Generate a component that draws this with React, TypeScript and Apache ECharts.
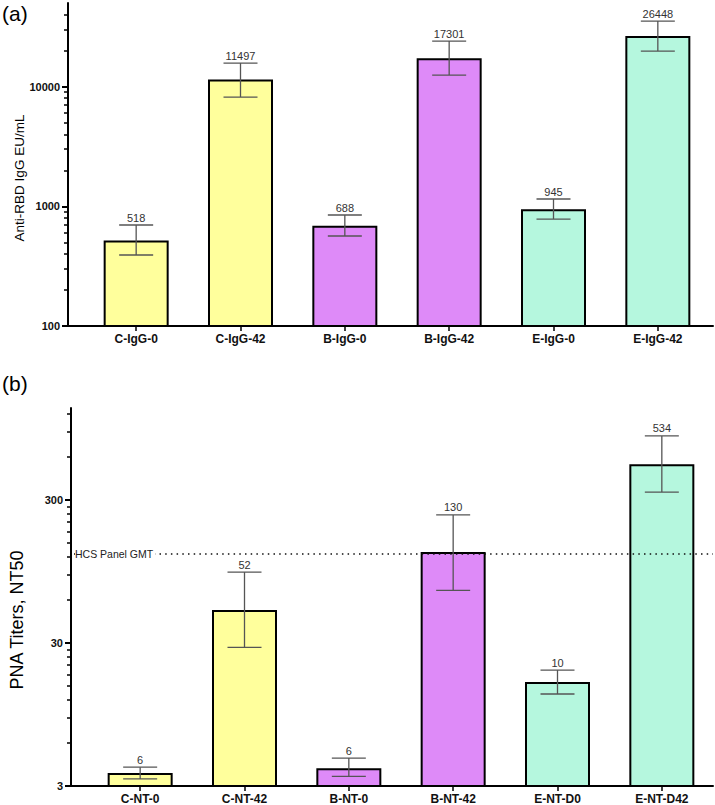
import React, { useEffect, useRef } from "react";
import * as echarts from "echarts";

const FONT = '"Liberation Sans", Arial, Helvetica, sans-serif';

// ---- Panel (a) data ----
const topCategories = ["C-IgG-0", "C-IgG-42", "B-IgG-0", "B-IgG-42", "E-IgG-0", "E-IgG-42"];
const topValues = [518, 11497, 688, 17301, 945, 26448];
const topErrLow = [392, 8190, 565, 12500, 783, 19830];
const topErrHigh = [698, 15740, 846, 24040, 1151, 35300];
const topLabels = ["518", "11497", "688", "17301", "945", "26448"];
const topMajorTicks = [100, 1000, 10000];
const topMinorTicks = [
  200, 300, 400, 500, 600, 700, 800, 900,
  2000, 3000, 4000, 5000, 6000, 7000, 8000, 9000,
  20000, 30000, 40000,
];
const topMin = 100;
const topMax = 50000;

// ---- Panel (b) data ----
const bottomCategories = ["C-NT-0", "C-NT-42", "B-NT-0", "B-NT-42", "E-NT-D0", "E-NT-D42"];
const bottomValues = [3.7, 51, 4.0, 130, 16, 534];
const bottomErrLow = [3.36, 28, 3.5, 70, 13.2, 341];
const bottomErrHigh = [4.06, 94, 4.7, 236, 19.4, 842];
const bottomLabels = ["6", "52", "6", "130", "10", "534"];
const bottomMajorTicks = [3, 30, 300];
const bottomMinorTicks = [
  6, 9, 12, 15, 18, 21, 24, 27,
  60, 90, 120, 150, 180, 210, 240, 270,
  600, 900, 1200,
];
const bottomMin = 3;
const bottomMax = 1320;
const hcsGMT = 126;

const barColors = ["#FFFF9C", "#FFFF9C", "#DE8AF8", "#DE8AF8", "#B5F7DE", "#B5F7DE"];

function errorSeries(xi: number, yi: number, lo: number[], hi: number[], labels: string[]) {
  return {
    type: "custom",
    xAxisIndex: xi,
    yAxisIndex: yi,
    z: 5,
    data: lo.map((l, i) => [i, l, hi[i]]),
    renderItem: (params: any, api: any) => {
      const i = api.value(0);
      const top = api.coord([i, api.value(2)]);
      const bot = api.coord([i, api.value(1)]);
      const x = top[0];
      const half = 17;
      const st = { stroke: "#555", lineWidth: 1.3 };
      return {
        type: "group",
        children: [
          { type: "line", shape: { x1: x, y1: top[1], x2: x, y2: bot[1] }, style: st },
          { type: "line", shape: { x1: x - half, y1: top[1], x2: x + half, y2: top[1] }, style: st },
          { type: "line", shape: { x1: x - half, y1: bot[1], x2: x + half, y2: bot[1] }, style: st },
          {
            type: "text",
            style: {
              text: labels[params.dataIndex],
              x,
              y: top[1] - 2,
              align: "center",
              verticalAlign: "bottom",
              fontSize: 11,
              fontFamily: FONT,
              fill: "#333",
            },
          },
        ],
      };
    },
  };
}

function barSeries(xi: number, yi: number, values: number[]) {
  return {
    type: "bar",
    xAxisIndex: xi,
    yAxisIndex: yi,
    barWidth: 65,
    z: 2,
    data: values.map((v, i) => ({
      value: v,
      itemStyle: { color: barColors[i], borderColor: "#000", borderWidth: 2 },
    })),
  };
}

function outerX(gi: number) {
  return {
    type: "value",
    gridIndex: gi,
    min: 0,
    max: 1,
    axisLine: { show: true, onZero: false, lineStyle: { color: "#000", width: 2 } },
    axisTick: { show: false },
    axisLabel: { show: false },
    splitLine: { show: false },
  };
}

function innerX(gi: number, cats: string[]) {
  return {
    type: "category",
    gridIndex: gi,
    data: cats,
    axisLine: { show: false },
    axisTick: { show: true, alignWithLabel: true, length: 5, lineStyle: { color: "#000", width: 1.5 } },
    axisLabel: { fontFamily: FONT, fontSize: 12, fontWeight: "bold", color: "#111", margin: 7 },
    splitLine: { show: false },
  };
}

function majorY(gi: number, min: number, max: number, ticks: number[], margin: number) {
  return {
    type: "log",
    gridIndex: gi,
    min,
    max,
    axisLine: { show: true, onZero: false, lineStyle: { color: "#000", width: 2 } },
    axisTick: { show: true, customValues: ticks, length: 6, lineStyle: { color: "#000", width: 2 } },
    axisLabel: {
      customValues: ticks,
      formatter: (v: number) => String(Math.round(v)),
      fontFamily: FONT,
      fontSize: 11,
      fontWeight: "bold",
      color: "#111",
      margin,
    },
    splitLine: { show: false },
  };
}

function minorY(gi: number, min: number, max: number, ticks: number[]) {
  return {
    type: "log",
    gridIndex: gi,
    min,
    max,
    position: "left",
    axisLine: { show: false },
    axisTick: { show: true, customValues: ticks, length: 4, lineStyle: { color: "#000", width: 1.5 } },
    axisLabel: { show: false },
    splitLine: { show: false },
  };
}

function hiddenY(gi: number, min: number, max: number) {
  return { type: "log", gridIndex: gi, min, max, show: false, splitLine: { show: false } };
}

export default function App() {
  const ref = useRef<HTMLDivElement>(null);
  useEffect(() => {
    document.body.style.margin = "0";
    if (!ref.current) return;
    const chart = echarts.init(ref.current, undefined, { renderer: "svg" });
    chart.setOption({
      animation: false,
      backgroundColor: "#fff",
      grid: [
        { left: 68, right: 2, top: 3, height: 323 },
        { left: 84, right: 5, top: 3, height: 323 },
        { left: 71, right: 2, top: 408, height: 378 },
        { left: 88, right: 1, top: 408, height: 378 },
      ],
      xAxis: [outerX(0), innerX(1, topCategories), outerX(2), innerX(3, bottomCategories)],
      yAxis: [
        majorY(0, topMin, topMax, topMajorTicks, 8),
        minorY(0, topMin, topMax, topMinorTicks),
        hiddenY(1, topMin, topMax),
        majorY(2, bottomMin, bottomMax, bottomMajorTicks, 8),
        minorY(2, bottomMin, bottomMax, bottomMinorTicks),
        hiddenY(3, bottomMin, bottomMax),
      ],
      graphic: [
        { type: "text", left: 2, top: 3, style: { text: "(a)", fontSize: 21, fontFamily: FONT, fill: "#000" } },
        { type: "text", left: 2, top: 373, style: { text: "(b)", fontSize: 21, fontFamily: FONT, fill: "#000" } },
        {
          type: "text",
          x: 19,
          y: 178,
          rotation: Math.PI / 2,
          style: {
            text: "Anti-RBD IgG EU/mL",
            fontSize: 13.5,
            fontFamily: FONT,
            fill: "#000",
            align: "center",
            verticalAlign: "middle",
          },
        },
        {
          type: "text",
          x: 17,
          y: 620,
          rotation: Math.PI / 2,
          style: {
            text: "PNA Titers, NT50",
            fontSize: 18,
            fontFamily: FONT,
            fill: "#000",
            align: "center",
            verticalAlign: "middle",
          },
        },
      ],
      series: [
        barSeries(1, 2, topValues),
        errorSeries(1, 2, topErrLow, topErrHigh, topLabels),
        barSeries(3, 5, bottomValues),
        errorSeries(3, 5, bottomErrLow, bottomErrHigh, bottomLabels),
        {
          type: "custom",
          xAxisIndex: 2,
          yAxisIndex: 3,
          z: 6,
          data: [[0, hcsGMT]],
          renderItem: (params: any, api: any) => {
            const p = api.coord([0, api.value(1)]);
            const cs = params.coordSys;
            return {
              type: "group",
              children: [
                {
                  type: "line",
                  shape: { x1: cs.x + 3, y1: p[1], x2: cs.x + cs.width, y2: p[1] },
                  style: { stroke: "#111", lineWidth: 1.5, lineDash: [1.5, 4.2] },
                },
                {
                  type: "text",
                  style: {
                    text: "HCS Panel GMT",
                    x: cs.x + 4,
                    y: p[1],
                    align: "left",
                    verticalAlign: "middle",
                    fontSize: 10.5,
                    fontFamily: FONT,
                    fill: "#222",
                    backgroundColor: "#fff",
                    padding: [0, 2, 0, 0],
                  },
                },
              ],
            };
          },
        },
      ],
    });
    return () => chart.dispose();
  }, []);
  return <div ref={ref} style={{ width: 715, height: 805 }} />;
}
